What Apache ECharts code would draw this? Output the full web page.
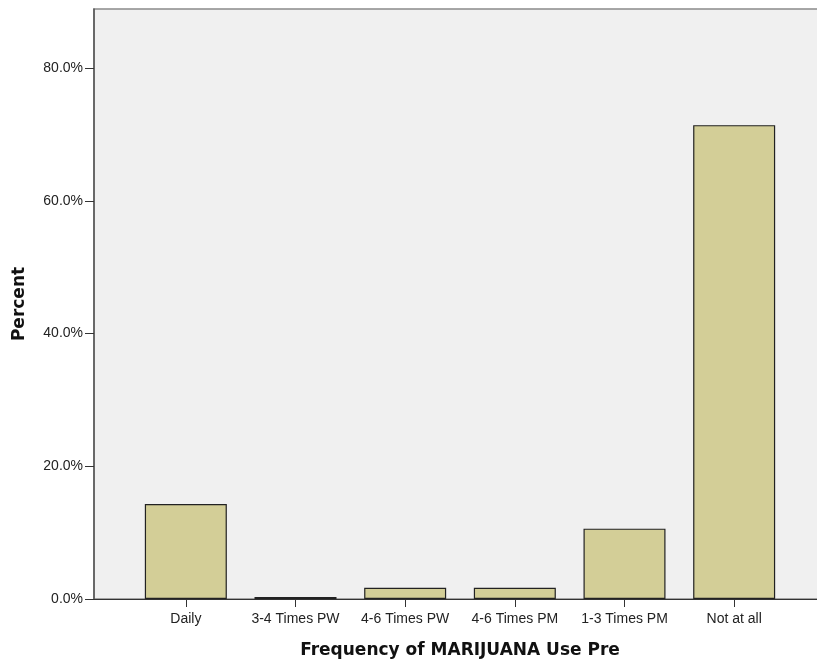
<!DOCTYPE html>
<html><head><meta charset="utf-8">
<script src="https://cdn.jsdelivr.net/npm/echarts@6/dist/echarts.min.js"></script>
<style>html,body{margin:0;padding:0;background:#fff}#c{width:817px;height:661px}</style>
</head><body><div id="c"></div>
<script>
const categories = ["Daily", "3-4 Times PW", "4-6 Times PW", "4-6 Times PM", "1-3 Times PM", "Not at all"];
const percentValues = [14.3, 0.3, 1.7, 1.7, 10.6, 71.4];
const yTicks = [0, 20, 40, 60, 80];
const yMax = 88.9;

const chart = echarts.init(document.getElementById('c'));
const font = '"Liberation Sans", Arial, sans-serif';
const boldFont = '"DejaVu Sans", sans-serif';
chart.setOption({
  animation: false,
  grid: [
    {left: 94, right: -20, top: 9, bottom: 62, outerBoundsMode: 'none', containLabel: false, show: true, backgroundColor: '#f0f0f0', borderColor: '#8a8a8a', borderWidth: 1.5},
    {left: 131, right: 28, top: 9, bottom: 62, outerBoundsMode: 'none', containLabel: false}
  ],
  xAxis: [
    {gridIndex: 0, type: 'value', min: 0, max: 1, axisLine: {show: true, onZero: false, lineStyle: {color: '#333', width: 1.2}},
     axisTick: {show: false}, axisLabel: {show: false}, splitLine: {show: false}},
    {gridIndex: 1, type: 'category', data: categories, axisLine: {show: false},
     axisTick: {show: true, alignWithLabel: true, interval: 0, length: 8, lineStyle: {color: '#333'}},
     axisLabel: {interval: 0, hideOverlap: false, margin: 13, fontFamily: font, fontSize: 14, color: '#222'},
     name: 'Frequency of MARIJUANA Use Pre', nameLocation: 'middle', nameGap: 43,
     nameTextStyle: {fontFamily: boldFont, fontSize: 17, fontWeight: 'bold', color: '#111', verticalAlign: 'top'}}
  ],
  yAxis: [
    {gridIndex: 0, type: 'value', min: 0, max: yMax,
     axisLine: {show: true, lineStyle: {color: '#555', width: 1.5}},
     axisTick: {show: true, length: 9, customValues: yTicks, lineStyle: {color: '#333'}},
     axisLabel: {margin: 11, customValues: yTicks, fontFamily: font, fontSize: 14, color: '#222',
       formatter: v => v.toFixed(1) + '%'},
     splitLine: {show: false},
     name: 'Percent', nameLocation: 'middle', nameGap: 66,
     nameTextStyle: {fontFamily: boldFont, fontSize: 17, fontWeight: 'bold', color: '#111'}},
    {gridIndex: 1, type: 'value', min: 0, max: yMax, show: false}
  ],
  series: [{
    type: 'bar', xAxisIndex: 1, yAxisIndex: 1, data: percentValues, barWidth: 82,
    itemStyle: {color: '#d3ce97', borderColor: '#222', borderWidth: 1.2}
  }]
});
</script></body></html>
